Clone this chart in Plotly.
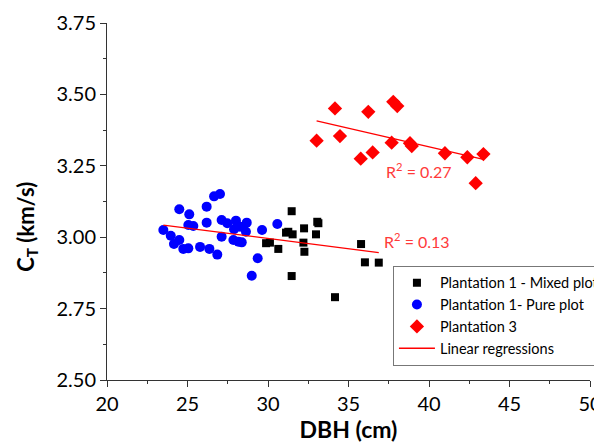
import numpy as np
import plotly.graph_objects as go

# Plantation 1 - Mixed plot
mixed_dbh = [31.47, 29.88, 30.12, 30.64, 31.12, 31.26, 31.53, 31.47, 32.24, 32.20,
             32.26, 33.06, 33.13, 32.98, 34.16, 35.78, 36.02, 36.88]
mixed_ct = [3.091, 2.979, 2.981, 2.959, 3.016, 3.019, 3.010, 2.864, 3.031, 2.981,
            2.949, 3.054, 3.049, 3.010, 2.790, 2.976, 2.912, 2.911]

# Plantation 1 - Pure plot
pure_dbh = [23.50, 23.96, 24.16, 24.49, 24.49, 24.74, 25.05, 25.11, 25.05, 25.36,
            25.78, 26.19, 26.19, 26.36, 26.65, 27.02, 26.85, 27.12, 27.12, 27.47,
            27.85, 28.01, 27.89, 28.26, 28.16, 28.37, 28.68, 28.63, 29.63, 29.36,
            28.99, 30.58]
pure_ct = [3.025, 3.005, 2.976, 2.990, 3.098, 2.959, 2.961, 3.080, 3.043, 3.039,
           2.966, 3.107, 3.051, 2.959, 3.143, 3.151, 2.939, 3.060, 3.002, 3.049,
           2.990, 3.058, 3.028, 3.037, 2.984, 2.982, 3.051, 3.019, 3.025, 2.926,
           2.865, 3.046]

# Plantation 3
p3_dbh = [33.02, 34.16, 34.47, 35.76, 36.23, 36.50, 37.68, 37.78, 38.03, 38.82,
          38.93, 40.99, 42.38, 43.38, 42.90]
p3_ct = [3.338, 3.451, 3.354, 3.275, 3.439, 3.297, 3.331, 3.474, 3.459, 3.329,
         3.319, 3.294, 3.280, 3.291, 3.189]

r2_labels = ["R<sup>2</sup> = 0.13", "R<sup>2</sup> = 0.27"]
r2_x = [37.05, 37.2]
r2_y = [2.99, 3.235]

FONT = "Lato"

fig = go.Figure()
fig.add_trace(go.Scatter(x=mixed_dbh, y=mixed_ct, mode="markers", name="Plantation 1 - Mixed plot",
                         marker=dict(symbol="square", size=8, color="black")))
fig.add_trace(go.Scatter(x=pure_dbh, y=pure_ct, mode="markers", name="Plantation 1- Pure plot",
                         marker=dict(symbol="circle", size=10, color="#0000ff")))
fig.add_trace(go.Scatter(x=p3_dbh, y=p3_ct, mode="markers", name="Plantation 3",
                         marker=dict(symbol="diamond", size=11, color="#ff0000")))

# regressions
p1x = np.array(pure_dbh + mixed_dbh)
p1y = np.array(pure_ct + mixed_ct)
a1, b1 = np.polyfit(p1x, p1y, 1)
x1 = np.array([p1x.min(), p1x.max()])
fig.add_trace(go.Scatter(x=x1, y=a1 * x1 + b1, mode="lines", name="Linear regressions",
                         line=dict(color="#ff0000", width=1.3)))
p3x = np.array(p3_dbh)
p3y = np.array(p3_ct)
a3, b3 = np.polyfit(p3x, p3y, 1)
x3 = np.array([p3x.min(), p3x.max()])
fig.add_trace(go.Scatter(x=x3, y=a3 * x3 + b3, mode="lines", showlegend=False,
                         line=dict(color="#ff0000", width=1.3)))

for t, xx, yy in zip(r2_labels, r2_x, r2_y):
    fig.add_annotation(x=xx, y=yy, text=t, showarrow=False, xanchor="left", yanchor="middle",
                       font=dict(family=FONT, size=16, color="#ff3a3a"))

# y axis title (placed as rotated text, slightly below the axis centre as in the reference)
fig.add_annotation(xref="paper", yref="paper", x=-0.165, y=0.43, text="<b>C<sub>T</sub> (km/s)</b>",
                   textangle=-90, showarrow=False, xanchor="center", yanchor="middle",
                   font=dict(family=FONT, size=22, color="black"))

axis_common = dict(showgrid=False, zeroline=False, showline=True, linecolor="#333333", linewidth=1,
                   ticks="outside", ticklen=6, tickcolor="#333333", mirror=False, automargin=False,
                   tickfont=dict(family=FONT, size=20, color="black"))
fig.update_xaxes(range=[20, 50], dtick=5, title=dict(text="<b>DBH (cm)</b>", standoff=4,
                 font=dict(family=FONT, size=23, color="black")),
                 minor=dict(ticks="outside", dtick=2.5, ticklen=3, tickcolor="#333333"), **axis_common)
fig.update_yaxes(range=[2.5, 3.75], dtick=0.25, tickformat=".2f",
                 minor=dict(ticks="outside", dtick=0.125, ticklen=3, tickcolor="#333333"), **axis_common)

# page body has an 8px default margin, so the plot area is offset accordingly
fig.update_layout(width=602, height=446, margin=dict(l=99, r=20, t=15, b=74, autoexpand=False),
                  plot_bgcolor="white", paper_bgcolor="white",
                  legend=dict(x=0.592, y=0.32, xanchor="left", yanchor="top",
                              bordercolor="#777777", borderwidth=1, bgcolor="white",
                              font=dict(family=FONT, size=14.5, color="black"),
                              itemwidth=36, tracegroupgap=2))
fig.write_html("out.html")
